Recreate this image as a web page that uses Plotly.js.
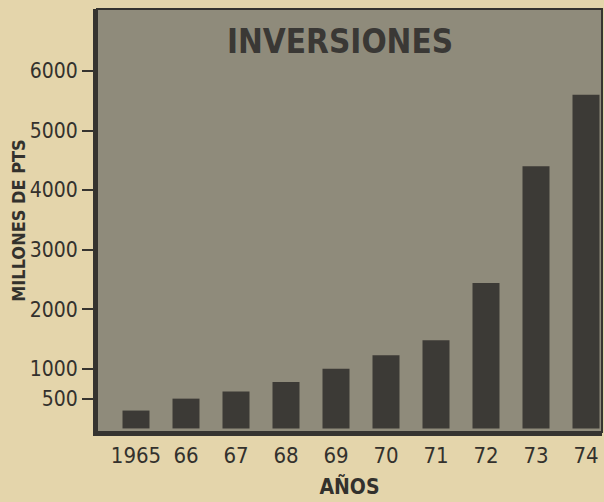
<!DOCTYPE html>
<html>
<head>
<meta charset="utf-8">
<script src="https://cdn.plot.ly/plotly-3.0.1.min.js"></script>
<style>html,body{margin:0;padding:0;background:#e4d5ab;}</style>
</head>
<body>
<div id="chart" style="width:604px;height:502px;"></div>
<script>
const years = ["1965","66","67","68","69","70","71","72","73","74"];
const inversiones = [300, 500, 620, 780, 1000, 1230, 1480, 2440, 4400, 5600];
const yTicks = [500, 1000, 2000, 3000, 4000, 5000, 6000];
const yTickText = ["500", "1000", "2000", "3000", "4000", "5000", "6000"];

const ink = "#35332f";
const font = "DejaVu Sans Condensed";
const trace = {
  type: "bar",
  x: years,
  y: inversiones,
  width: 0.54,
  marker: {color: "#3c3a36", line: {width: 0}},
  hoverinfo: "x+y"
};

const layout = {
  width: 604, height: 502,
  margin: {l: 97, r: 2, t: 9, b: 70},
  paper_bgcolor: "#e4d5ab",
  plot_bgcolor: "#8f8b7b",
  showlegend: false,
  title: {
    text: "INVERSIONES",
    font: {family: font, size: 33, color: "#3a3835", weight: "bold"},
    xref: "container", x: 0.563, xanchor: "center",
    yref: "container", y: 0.918, yanchor: "middle"
  },
  xaxis: {
    type: "category",
    range: [-0.78, 9.32],
    showgrid: false, zeroline: false,
    showline: true, linecolor: ink, linewidth: 4,
    ticks: "", ticklabelstandoff: 1,
    tickfont: {family: font, size: 22, color: "#33312d"},
    title: {text: "AÑOS", standoff: 13,
      font: {family: font, size: 21, color: "#33312d", weight: "bold"}}
  },
  yaxis: {
    range: [-60, 7040],
    tickvals: yTicks, ticktext: yTickText,
    showgrid: false, zeroline: false,
    showline: true, linecolor: ink, linewidth: 4,
    ticks: "outside", ticklen: 11, tickwidth: 2, tickcolor: ink,
    tickfont: {family: font, size: 21, color: "#33312d"},
    title: {text: "MILLONES DE PTS", standoff: 0,
      font: {family: font, size: 18, color: "#33312d", weight: "bold"}}
  },
  shapes: [
    {type: "rect", xref: "paper", yref: "paper", x0: 0, x1: 1, y0: 0, y1: 1,
     line: {color: ink, width: 2}, fillcolor: "rgba(0,0,0,0)"}
  ]
};

Plotly.newPlot("chart", [trace], layout, {displayModeBar: false, staticPlot: true});
</script>
</body>
</html>
